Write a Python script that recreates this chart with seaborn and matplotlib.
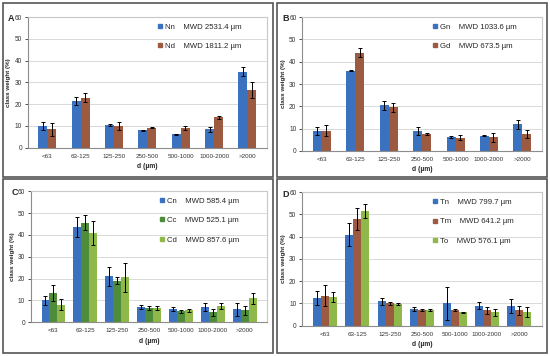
import numpy as np
import pandas as pd
import matplotlib.pyplot as plt
import seaborn as sns
from matplotlib.patches import Rectangle
from matplotlib.lines import Line2D

sns.set_theme(style="white")
plt.rcParams['font.family'] = ['Liberation Sans', 'DejaVu Sans']

# --- data ---
classes = ['<63', '63-125', '125-250', '250-500', '500-1000', '1000-2000', '>2000']

# panel A
a_series = ['Nn', 'Nd']
a_mwd = ['MWD 2531.4 µm', 'MWD 1811.2 µm']
a_vals = [[10.0, 21.5, 10.5, 8.0, 6.2, 8.5, 35.0],
          [8.5, 23.0, 10.0, 9.2, 9.0, 14.0, 26.5]]
a_err = [[2.0, 2.0, 0.6, 0.3, 0.3, 1.2, 2.2],
         [3.0, 2.0, 2.0, 0.3, 1.0, 0.8, 3.7]]

# panel B
b_series = ['Gn', 'Gd']
b_mwd = ['MWD 1033.6 µm', 'MWD 673.5 µm']
b_vals = [[9.0, 36.0, 20.5, 9.0, 6.3, 6.8, 12.0],
          [9.0, 44.0, 19.5, 7.5, 6.0, 6.2, 7.6]]
b_err = [[1.7, 0.3, 2.0, 1.7, 0.3, 0.2, 2.0],
         [2.5, 2.0, 2.0, 0.5, 1.2, 2.0, 2.0]]

# panel C
c_series = ['Cn', 'Cc', 'Cd']
c_mwd = ['MWD 585.4 µm', 'MWD 525.1 µm', 'MWD 857.6 µm']
c_vals = [[10.0, 43.5, 21.0, 7.0, 6.0, 7.0, 6.0],
          [13.5, 45.5, 19.0, 6.5, 5.0, 4.5, 5.5],
          [8.0, 41.0, 20.5, 6.5, 5.5, 7.5, 11.0]]
c_err = [[2.0, 4.5, 4.5, 1.0, 1.0, 2.0, 3.0],
         [3.7, 3.5, 1.5, 0.7, 0.7, 1.5, 2.0],
         [2.5, 5.5, 6.5, 0.7, 0.7, 1.5, 2.5]]

# panel D
d_series = ['Tn', 'Tm', 'To']
d_mwd = ['MWD 799.7 µm', 'MWD 641.2 µm', 'MWD 576.1 µm']
d_vals = [[12.5, 41.0, 11.0, 7.5, 10.0, 9.0, 9.0],
          [13.5, 48.0, 10.0, 7.2, 7.0, 7.0, 7.0],
          [13.0, 51.5, 9.8, 7.0, 6.0, 6.0, 6.0]]
d_err = [[3.0, 5.0, 1.5, 1.0, 7.5, 1.5, 3.2],
         [4.7, 5.0, 0.8, 0.5, 0.4, 1.5, 2.0],
         [2.3, 3.2, 0.3, 0.3, 0.4, 1.6, 2.2]]

blue = '#3b72c0'
brown = '#9c5a40'
dgreen = '#4e8c3a'
lgreen = '#8fb84a'


def panel(fig, rect, letter, series, mwd, vals, errs, colors):
    ax = fig.add_axes(rect)
    rows = []
    for s, v in zip(series, vals):
        for c, y in zip(classes, v):
            rows.append({'cls': c, 'series': s, 'val': y})
    df = pd.DataFrame(rows)
    width = 0.54 if len(series) == 2 else 0.74
    sns.barplot(data=df, x='cls', y='val', hue='series', palette=colors,
                errorbar=None, width=width, saturation=1, ax=ax, legend=False,
                edgecolor='none')
    # error bars at the bar centres
    for i, s in enumerate(series):
        cont = ax.containers[i]
        xs = [p.get_x() + p.get_width() / 2 for p in cont.patches]
        ys = [p.get_height() for p in cont.patches]
        ax.errorbar(xs, ys, yerr=errs[i], fmt='none', ecolor='black',
                    elinewidth=0.7, capsize=1.6, capthick=0.7, zorder=5)
    ax.set_ylim(0, 60)
    ax.set_yticks(range(0, 61, 10))
    ax.yaxis.grid(True, color='#d9d9d9', linewidth=0.7)
    ax.set_axisbelow(True)
    for sp in ax.spines.values():
        sp.set_color('#c8c8c8')
        sp.set_linewidth(0.8)
    ax.spines['left'].set_color('#8c8c8c')
    ax.spines['bottom'].set_color('#8c8c8c')
    ax.tick_params(axis='y', labelsize=4.7, colors='#333333', length=2,
                   pad=2, left=True, width=0.6)
    ax.tick_params(axis='x', labelsize=4.5, colors='#333333', bottom=False,
                   length=0, pad=4.5)
    ax.set_xlabel('d (µm)', fontsize=4.9, fontweight='bold', labelpad=3)
    ax.set_ylabel('class weight (%)', fontsize=4.5, fontweight='bold', labelpad=2.5)
    handles = [Line2D([], [], marker='s', linestyle='none', markersize=3.5,
                      color=col) for col in colors]
    labels = [f'{s}    {m}' for s, m in zip(series, mwd)]
    ax.legend(handles, labels, loc='upper left', bbox_to_anchor=(0.525, 0.975),
              frameon=False, fontsize=5.6, labelspacing=1.55, handletextpad=0.2,
              borderaxespad=0.0, borderpad=0.35, handlelength=1.0)
    fig.text(rect[0] - 0.035, rect[1] + rect[3] - 0.005, letter,
             fontsize=6.5, fontweight='bold', ha='left', va='center')
    return ax


fig = plt.figure(figsize=(5.5, 3.56), dpi=100)

# panel frames
for x0, y0 in [(0.006, 0.503), (0.503, 0.503), (0.006, 0.008), (0.503, 0.008)]:
    fig.add_artist(Rectangle((x0, y0), 0.491, 0.489, transform=fig.transFigure,
                             fill=False, edgecolor='#555555', linewidth=1.2))

panel(fig, [0.050, 0.585, 0.436, 0.367], 'A', a_series, a_mwd, a_vals, a_err, [blue, brown])
panel(fig, [0.549, 0.576, 0.437, 0.376], 'B', b_series, b_mwd, b_vals, b_err, [blue, brown])
panel(fig, [0.056, 0.095, 0.430, 0.368], 'C', c_series, c_mwd, c_vals, c_err, [blue, dgreen, lgreen])
panel(fig, [0.549, 0.085, 0.437, 0.375], 'D', d_series, d_mwd, d_vals, d_err, [blue, brown, lgreen])

fig.savefig('out.png', dpi=100)
